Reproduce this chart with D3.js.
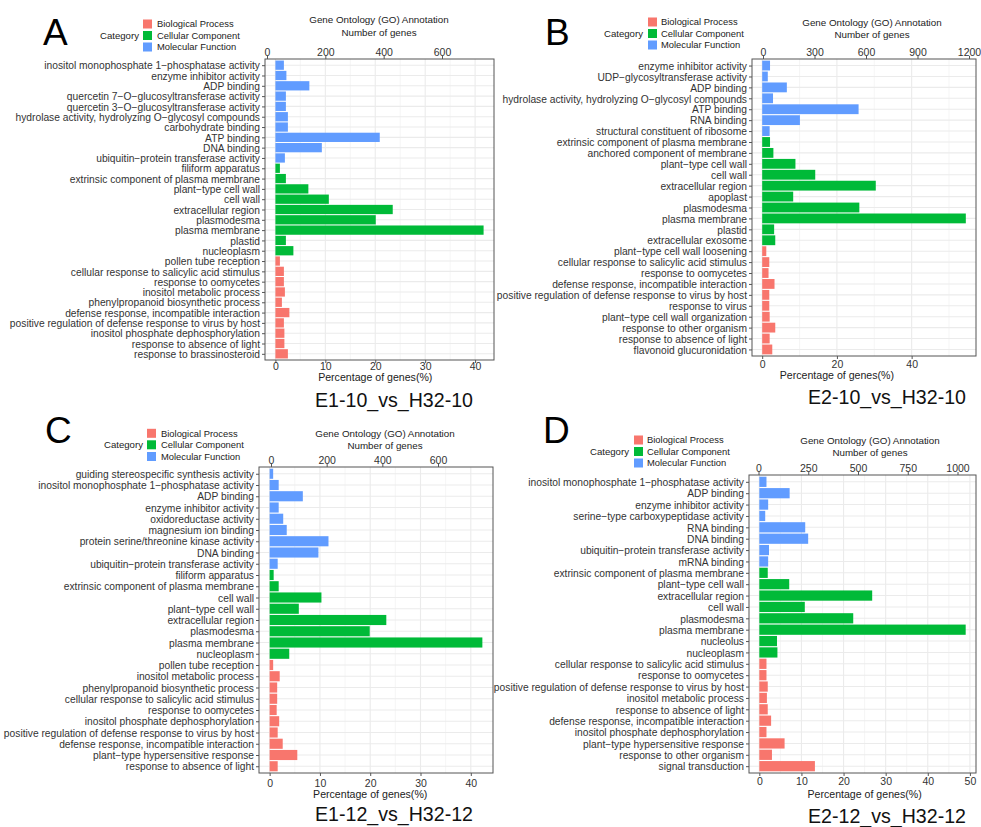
<!DOCTYPE html>
<html><head><meta charset="utf-8">
<script src="https://cdn.jsdelivr.net/npm/d3@7"></script>
<style>
html,body{margin:0;padding:0;background:#fff;}
svg{display:block;font-family:"Liberation Sans",Arial,sans-serif;}
</style></head>
<body><svg id="chart" width="981" height="827"></svg>
<script>
// ---------- DATA ----------
const legendLabels = ["Biological Process", "Cellular Component", "Molecular Function"];
const legendKeys = ["BP", "CC", "MF"];

const labelsA = ["inositol monophosphate 1−phosphatase activity","enzyme inhibitor activity","ADP binding","quercetin 7−O−glucosyltransferase activity","quercetin 3−O−glucosyltransferase activity","hydrolase activity, hydrolyzing O−glycosyl compounds","carbohydrate binding","ATP binding","DNA binding","ubiquitin−protein transferase activity","filiform apparatus","extrinsic component of plasma membrane","plant−type cell wall","cell wall","extracellular region","plasmodesma","plasma membrane","plastid","nucleoplasm","pollen tube reception","cellular response to salicylic acid stimulus","response to oomycetes","inositol metabolic process","phenylpropanoid biosynthetic process","defense response, incompatible interaction","positive regulation of defense response to virus by host","inositol phosphate dephosphorylation","response to absence of light","response to brassinosteroid"];
const valuesA = [1.7,2.2,6.8,2.1,2.1,2.5,2.5,20.9,9.3,1.9, 0.9,2.1,6.6,10.7,23.5,20.1,41.7,2.1,3.6, 0.9,1.7,1.7,1.9,1.3,2.8,1.7,1.8,1.8,2.5];
const groupsA = ["MF","MF","MF","MF","MF","MF","MF","MF","MF","MF","CC","CC","CC","CC","CC","CC","CC","CC","CC","BP","BP","BP","BP","BP","BP","BP","BP","BP","BP"];

const labelsB = ["enzyme inhibitor activity","UDP−glycosyltransferase activity","ADP binding","hydrolase activity, hydrolyzing O−glycosyl compounds","ATP binding","RNA binding","structural constituent of ribosome","extrinsic component of plasma membrane","anchored component of membrane","plant−type cell wall","cell wall","extracellular region","apoplast","plasmodesma","plasma membrane","plastid","extracellular exosome","plant−type cell wall loosening","cellular response to salicylic acid stimulus","response to oomycetes","defense response, incompatible interaction","positive regulation of defense response to virus by host","response to virus","plant−type cell wall organization","response to other organism","response to absence of light","flavonoid glucuronidation"];
const valuesB = [2.1,1.5,6.6,2.9,25.8,10.1,2.0, 2.1,3.0,8.9,14.2,30.4,8.3,26.0,54.5,3.2,3.5, 1.1,1.9,1.7,3.3,1.9,1.9,2.0,3.5,2.0,2.7];
const groupsB = ["MF","MF","MF","MF","MF","MF","MF","CC","CC","CC","CC","CC","CC","CC","CC","CC","CC","BP","BP","BP","BP","BP","BP","BP","BP","BP","BP"];

const labelsC = ["guiding stereospecific synthesis activity","inositol monophosphate 1−phosphatase activity","ADP binding","enzyme inhibitor activity","oxidoreductase activity","magnesium ion binding","protein serine/threonine kinase activity","DNA binding","ubiquitin−protein transferase activity","filiform apparatus","extrinsic component of plasma membrane","cell wall","plant−type cell wall","extracellular region","plasmodesma","plasma membrane","nucleoplasm","pollen tube reception","inositol metabolic process","phenylpropanoid biosynthetic process","cellular response to salicylic acid stimulus","response to oomycetes","inositol phosphate dephosphorylation","positive regulation of defense response to virus by host","defense response, incompatible interaction","plant−type hypersensitive response","response to absence of light"];
const valuesC = [0.7,1.8,6.6,1.8,2.7,3.4,11.7,9.7,1.6, 0.8,1.8,10.3,5.8,23.2,19.9,42.3,3.9, 0.7,2.0,1.5,1.5,1.4,1.9,1.6,2.6,5.5,1.6];
const groupsC = ["MF","MF","MF","MF","MF","MF","MF","MF","MF","CC","CC","CC","CC","CC","CC","CC","CC","BP","BP","BP","BP","BP","BP","BP","BP","BP","BP"];

const labelsD = ["inositol monophosphate 1−phosphatase activity","ADP binding","enzyme inhibitor activity","serine−type carboxypeptidase activity","RNA binding","DNA binding","ubiquitin−protein transferase activity","mRNA binding","extrinsic component of plasma membrane","plant−type cell wall","extracellular region","cell wall","plasmodesma","plasma membrane","nucleolus","nucleoplasm","cellular response to salicylic acid stimulus","response to oomycetes","positive regulation of defense response to virus by host","inositol metabolic process","response to absence of light","defense response, incompatible interaction","inositol phosphate dephosphorylation","plant−type hypersensitive response","response to other organism","signal transduction"];
const valuesD = [1.7,7.2,2.1,1.4,10.9,11.6,2.3,2.1, 2.0,7.1,26.8,10.8,22.3,49.0,4.2,4.3, 1.7,1.7,2.0,1.8,2.0,2.8,1.7,6.0,3.0,13.2];
const groupsD = ["MF","MF","MF","MF","MF","MF","MF","MF","CC","CC","CC","CC","CC","CC","CC","CC","BP","BP","BP","BP","BP","BP","BP","BP","BP","BP"];

const geneTicksA = [0,200,400,600];
const geneTicksB = [0,300,600,900,1200];
const geneTicksC = [0,200,400,600];
const geneTicksD = [0,250,500,750,1000];
const pctTicksA = [0,10,20,30,40];
const pctTicksB = [0,20,40];
const pctTicksC = [0,10,20,30,40];
const pctTicksD = [0,10,20,30,40,50];

const panelLetters = ["A","B","C","D"];
const comparisons = ["E1-10_vs_H32-10","E2-10_vs_H32-10","E1-12_vs_H32-12","E2-12_vs_H32-12"];

// ---------- STYLE / LAYOUT ----------
const colors = {BP:"#F8766D", CC:"#00BA38", MF:"#619CFF"};
const FONT = '"Liberation Sans",Arial,sans-serif';

const layouts = [
  {left:265, right:494, top:59, bottom:360, geneRange:[267,442], letter:[43,45],
   legend:{catX:100, catY:36, sqX:143, rows:[24,35.5,47], txtX:157}, title:{x:379, y1:19, y2:32},
   topTickY:52, botTickY:366, axisTitleY:377, subX:394, subY:400},
  {left:752, right:976, top:59, bottom:356, geneRange:[763,969], letter:[545,45],
   legend:{catX:604, catY:33.5, sqX:648, rows:[22,33.5,45], txtX:661}, title:{x:872, y1:22, y2:34},
   topTickY:52, botTickY:364, axisTitleY:375, subX:887, subY:397},
  {left:259, right:493, top:467, bottom:773, geneRange:[271,438], letter:[45,443],
   legend:{catX:104, catY:445, sqX:147, rows:[433.3,444.8,456.5], txtX:161}, title:{x:385, y1:433, y2:445},
   topTickY:460, botTickY:783, axisTitleY:794, subX:394, subY:814},
  {left:749, right:976, top:475, bottom:773, geneRange:[758.5,957.5], letter:[543,443],
   legend:{catX:590, catY:452, sqX:634, rows:[440,451.5,463], txtX:647}, title:{x:870, y1:440, y2:452},
   topTickY:468, botTickY:781, axisTitleY:794, subX:887, subY:816}
];

const panels = [
  {labels:labelsA, values:valuesA, groups:groupsA, geneTicks:geneTicksA, pctTicks:pctTicksA},
  {labels:labelsB, values:valuesB, groups:groupsB, geneTicks:geneTicksB, pctTicks:pctTicksB},
  {labels:labelsC, values:valuesC, groups:groupsC, geneTicks:geneTicksC, pctTicks:pctTicksC},
  {labels:labelsD, values:valuesD, groups:groupsD, geneTicks:geneTicksD, pctTicks:pctTicksD}
];

const svg = d3.select("#chart");

panels.forEach((p, i) => {
  const L = layouts[i];
  const g = svg.append("g");
  const n = p.labels.length;
  const maxV = d3.max(p.values);
  const x = d3.scaleLinear().domain([-0.05*maxV, 1.05*maxV]).range([L.left, L.right]);
  const y = d3.scalePoint().domain(d3.range(n)).range([L.top, L.bottom]).padding(0.6);
  const gene = d3.scaleLinear().domain([p.geneTicks[0], p.geneTicks[p.geneTicks.length-1]]).range(L.geneRange);
  const bh = y.step()*0.9;

  g.append("rect").attr("x",L.left).attr("y",L.top).attr("width",L.right-L.left).attr("height",L.bottom-L.top).attr("fill","#fff");

  const step = p.pctTicks[1]-p.pctTicks[0];
  const minors = [];
  for (let v = p.pctTicks[0]-step/2; v <= x.domain()[1]; v += step) if (v >= x.domain()[0]) minors.push(v);
  g.selectAll(".minor").data(minors).join("line")
    .attr("x1",d=>x(d)).attr("x2",d=>x(d)).attr("y1",L.top).attr("y2",L.bottom)
    .attr("stroke","#F0F0F0").attr("stroke-width",0.7);
  g.selectAll(".majv").data(p.pctTicks).join("line")
    .attr("x1",d=>x(d)).attr("x2",d=>x(d)).attr("y1",L.top).attr("y2",L.bottom)
    .attr("stroke","#EBEBEB").attr("stroke-width",1.1);
  g.selectAll(".majh").data(d3.range(n)).join("line")
    .attr("x1",L.left).attr("x2",L.right).attr("y1",d=>y(d)).attr("y2",d=>y(d))
    .attr("stroke","#EBEBEB").attr("stroke-width",1.1);

  g.selectAll(".bar").data(p.values).join("rect")
    .attr("x", x(0)).attr("y",(d,k)=>y(k)-bh/2)
    .attr("width", d=>x(d)-x(0)).attr("height", bh)
    .attr("fill",(d,k)=>colors[p.groups[k]]);

  g.append("rect").attr("x",L.left).attr("y",L.top).attr("width",L.right-L.left).attr("height",L.bottom-L.top)
    .attr("fill","none").attr("stroke","#555").attr("stroke-width",1);

  const styleAxis = (sel, fs) => {
    sel.select(".domain").remove();
    sel.selectAll(".tick line").attr("stroke","#555");
    sel.selectAll(".tick text").attr("fill","#333").style("font-family",FONT).style("font-size",fs+"px");
  };

  const ya = g.append("g").attr("transform",`translate(${L.left},0)`)
    .call(d3.axisLeft(y).tickFormat(k=>p.labels[k]).tickSize(3).tickPadding(2));
  styleAxis(ya, 10.25);
  ya.selectAll(".tick text").attr("dy","0.36em");

  const xa = g.append("g").attr("transform",`translate(0,${L.bottom})`)
    .call(d3.axisBottom(x).tickValues(p.pctTicks).tickSize(3).tickFormat(d3.format("d")));
  styleAxis(xa, 10.5);
  xa.selectAll(".tick text").attr("y", L.botTickY - L.bottom + 3.8).attr("dy",0);

  const ta = g.append("g").attr("transform",`translate(0,${L.top})`)
    .call(d3.axisTop(gene).tickValues(p.geneTicks).tickSize(3).tickFormat(d3.format("d")));
  styleAxis(ta, 10.5);
  ta.selectAll(".tick text").attr("y", L.topTickY - L.top + 3.8).attr("dy",0);

  g.append("text").attr("x",L.title.x).attr("y",L.title.y1+3.5).attr("text-anchor","middle")
    .style("font-size","9.8px").attr("fill","#222").text("Gene Ontology (GO) Annotation");
  g.append("text").attr("x",L.title.x).attr("y",L.title.y2+3.5).attr("text-anchor","middle")
    .style("font-size","9.8px").attr("fill","#222").text("Number of genes");
  g.append("text").attr("x",(x(p.pctTicks[0])+x(p.pctTicks[p.pctTicks.length-1]))/2).attr("y",L.axisTitleY+3.8).attr("text-anchor","middle")
    .style("font-size","10.6px").attr("fill","#222").text("Percentage of genes(%)");
  g.append("text").attr("x",L.subX).attr("y",L.subY+7).attr("text-anchor","middle")
    .style("font-size","19.6px").attr("fill","#111").text(comparisons[i]);
  g.append("text").attr("x",L.letter[0]).attr("y",L.letter[1]).style("font-size","37px").attr("fill","#000").text(panelLetters[i]);

  g.append("text").attr("x",L.legend.catX).attr("y",L.legend.catY+3.4).style("font-size","9.6px").attr("fill","#222").text("Category");
  legendKeys.forEach((k,j)=>{
    g.append("rect").attr("x",L.legend.sqX).attr("y",L.legend.rows[j]-4.5).attr("width",9).attr("height",9).attr("fill",colors[k]);
    g.append("text").attr("x",L.legend.txtX).attr("y",L.legend.rows[j]+3.4).style("font-size","9.4px").attr("fill","#222").text(legendLabels[j]);
  });
});
</script></body></html>
